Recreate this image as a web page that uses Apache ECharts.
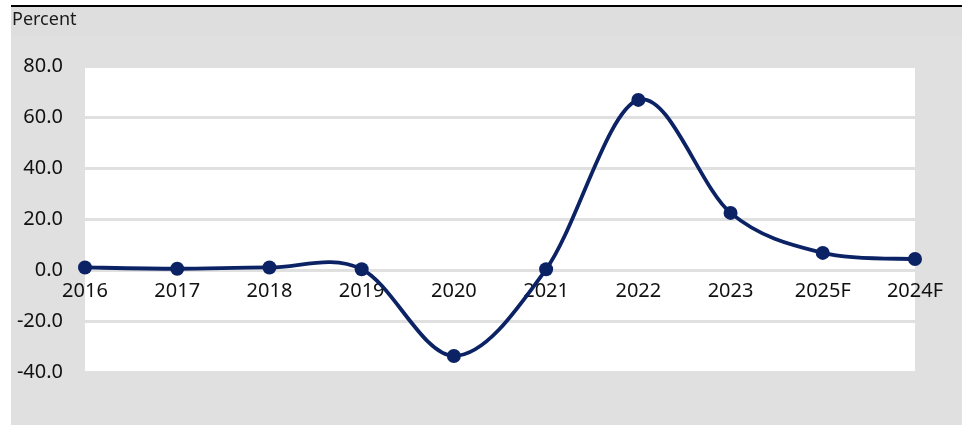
<!DOCTYPE html>
<html>
<head>
<meta charset="utf-8">
<script src="https://cdn.jsdelivr.net/npm/echarts@6/dist/echarts.min.js"></script>
<style>
  html, body { margin: 0; padding: 0; background: #ffffff; }
  #chart { width: 962px; height: 425px; }
</style>
</head>
<body>
<div id="chart"></div>
<script>
// Annual change, percent
const years = ['2016', '2017', '2018', '2019', '2020', '2021', '2022', '2023', '2025F', '2024F'];
const changePct = [1.0, 0.5, 1.0, 0.3, -33.7, 0.3, 66.7, 22.4, 6.7, 4.3];
const yTicks = { min: -40, max: 80, step: 20 };

const lineColor = '#0b2265';
const font = '"Noto Sans", "Open Sans", sans-serif';
const gridTop = 66, gridBottom = 53, chartHeight = 425;
const chart = echarts.init(document.getElementById('chart'), null, { renderer: 'canvas' });

// Category labels sit on the zero line: shift the x axis up from the grid bottom
const plotHeight = chartHeight - gridTop - gridBottom;
const zeroOffset = -plotHeight * (0 - yTicks.min) / (yTicks.max - yTicks.min);

// Catmull-Rom style smoothed segment between point i and i+1 (in pixel space)
function renderSegment(params, api) {
  const i = params.dataIndex;
  const n = changePct.length;
  if (i >= n - 1) return null;
  const clamp = j => Math.max(0, Math.min(n - 1, j));
  const pt = j => api.coord([clamp(j), changePct[clamp(j)]]);
  const p0 = pt(i - 1), p1 = pt(i), p2 = pt(i + 1), p3 = pt(i + 2);
  const k = 1 / 6;
  return {
    type: 'bezierCurve',
    shape: {
      x1: p1[0], y1: p1[1],
      cpx1: p1[0] + (p2[0] - p0[0]) * k, cpy1: p1[1] + (p2[1] - p0[1]) * k,
      cpx2: p2[0] - (p3[0] - p1[0]) * k, cpy2: p2[1] - (p3[1] - p1[1]) * k,
      x2: p2[0], y2: p2[1]
    },
    style: { stroke: lineColor, lineWidth: 3.8, fill: null, lineCap: 'round' }
  };
}

chart.setOption({
  animation: false,
  backgroundColor: '#ffffff',
  graphic: [
    { type: 'rect', left: 11, top: 7, shape: { width: 951, height: 418 }, style: { fill: '#e0e0e0' }, z: -10 },
    { type: 'rect', left: 11, top: 7, shape: { width: 951, height: 29 }, style: { fill: '#dedede' }, z: -9 },
    { type: 'line', shape: { x1: 11, y1: 6, x2: 962, y2: 6 }, style: { stroke: '#000000', lineWidth: 2 }, z: 5 },
    { type: 'text', left: 12, top: 11, style: { text: 'Percent', fontSize: 18, fontFamily: font, fill: '#1a1a1a' }, z: 5 }
  ],
  grid: {
    left: 85, right: 47, top: gridTop, bottom: gridBottom,
    show: true, backgroundColor: '#ffffff', borderWidth: 0
  },
  xAxis: {
    type: 'category',
    data: years,
    boundaryGap: false,
    offset: zeroOffset,
    axisLine: { show: false, onZero: false },
    axisTick: { show: false },
    axisLabel: { color: '#111111', fontSize: 20, fontFamily: font, margin: 11 },
    splitLine: { show: false }
  },
  yAxis: {
    type: 'value',
    min: yTicks.min, max: yTicks.max, interval: yTicks.step,
    axisLine: { show: false },
    axisTick: { show: false },
    axisLabel: {
      color: '#111111', fontSize: 20, fontFamily: font, margin: 22,
      formatter: v => v.toFixed(1)
    },
    splitLine: { show: true, lineStyle: { color: '#e0e0e0', width: 3 } }
  },
  series: [
    {
      type: 'custom',
      renderItem: renderSegment,
      data: changePct.map((v, i) => [i, v]),
      z: 2
    },
    {
      type: 'scatter',
      data: changePct,
      symbol: 'circle',
      symbolSize: 14,
      itemStyle: { color: lineColor, opacity: 1 },
      z: 3
    }
  ]
});
</script>
</body>
</html>
